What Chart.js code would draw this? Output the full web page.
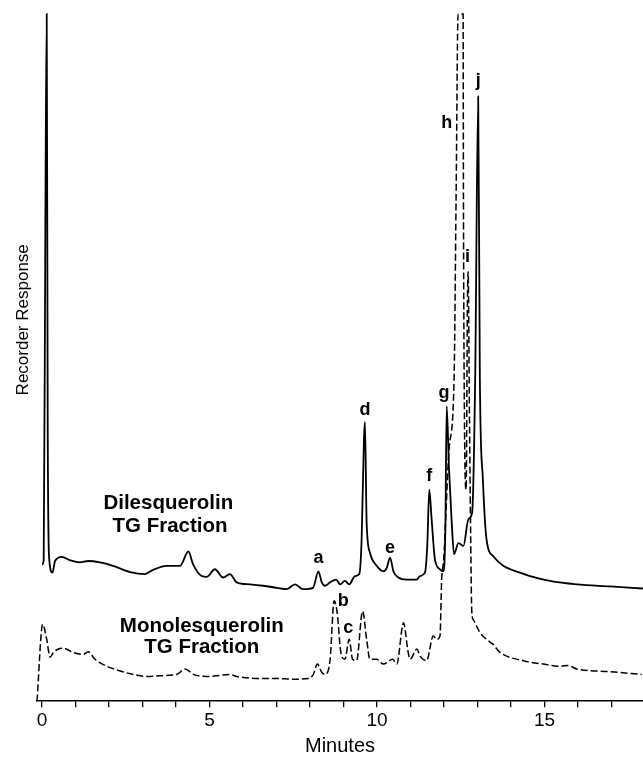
<!DOCTYPE html>
<html>
<head>
<meta charset="utf-8">
<script src="https://cdn.jsdelivr.net/npm/chart.js@4.4.1/dist/chart.umd.min.js"></script>
<style>
  body { margin: 0; background: #fff; }
  #wrap { width: 643px; height: 758px; }
</style>
</head>
<body>
<div id="wrap"><canvas id="gc_chart"></canvas></div>
<script>
// Dilesquerolin TG fraction (solid trace): minutes / recorder response (0-100 full scale)
var diTime = [0.00, 0.05, 0.10, 0.14, 0.17, 0.21, 0.31, 0.39, 0.59, 0.84, 1.13, 1.38, 1.73, 2.12, 2.63, 3.07, 3.31, 3.72, 4.12, 4.37, 4.51, 4.77, 4.92, 5.16, 5.41, 5.61, 5.81, 6.21, 6.60, 7.01, 7.30, 7.55, 7.79, 8.09, 8.25, 8.35, 8.45, 8.60, 8.78, 8.90, 9.04, 9.17, 9.34, 9.47, 9.54, 9.61, 9.64, 9.69, 9.79, 9.99, 10.19, 10.29, 10.39, 10.49, 10.64, 10.89, 11.19, 11.28, 11.43, 11.50, 11.56, 11.63, 11.73, 11.88, 11.98, 12.04, 12.08, 12.15, 12.23, 12.30, 12.43, 12.58, 12.73, 12.84, 12.93, 13.02, 13.07, 13.16, 13.27, 13.47, 13.77, 14.27, 14.57, 15.16, 15.96, 16.96, 17.94];
var diResp = [19.9, 20.5, 70.0, 100.0, 40.0, 21.0, 18.7, 20.4, 21.0, 20.5, 20.2, 20.4, 20.2, 19.7, 18.8, 18.5, 19.1, 19.7, 19.7, 21.8, 19.9, 18.2, 18.1, 19.2, 18.0, 18.5, 17.3, 17.0, 16.8, 16.5, 16.3, 17.0, 16.3, 16.5, 18.9, 17.3, 16.8, 17.3, 17.7, 17.0, 17.5, 17.0, 18.2, 18.5, 23.5, 38.1, 40.6, 26.0, 21.6, 19.7, 18.9, 19.4, 20.9, 18.9, 18.0, 17.7, 17.7, 18.2, 18.7, 22.6, 30.8, 26.5, 20.6, 19.2, 18.9, 25.0, 42.9, 33.7, 26.0, 21.4, 23.0, 22.6, 26.5, 27.5, 46.8, 88.0, 46.8, 32.3, 23.5, 21.1, 19.7, 18.7, 18.2, 17.5, 17.0, 16.7, 16.4];

// Monolesquerolin TG fraction (dashed trace)
var monoTime = [-0.15, 0.02, 0.14, 0.24, 0.34, 0.49, 0.64, 0.93, 1.23, 1.38, 1.58, 1.93, 2.33, 2.72, 3.13, 3.52, 4.02, 4.27, 4.52, 4.92, 5.21, 5.61, 5.81, 6.51, 7.01, 7.50, 7.95, 8.10, 8.22, 8.35, 8.45, 8.60, 8.72, 8.81, 8.92, 9.04, 9.17, 9.27, 9.39, 9.57, 9.69, 9.79, 9.99, 10.19, 10.47, 10.59, 10.79, 10.93, 10.99, 11.19, 11.28, 11.48, 11.68, 11.78, 11.88, 11.93, 11.99, 12.15, 12.30, 12.36, 12.42, 12.57, 12.58, 12.61, 12.66, 12.70, 12.72, 12.76, 12.79, 12.83, 12.87, 13.07, 13.27, 13.46, 13.67, 14.37, 14.96, 15.46, 15.70, 15.96, 16.96, 17.90];
var monoResp = [0.0, 11.2, 9.0, 6.4, 7.1, 7.6, 7.7, 7.1, 6.8, 7.2, 6.1, 5.1, 4.4, 3.9, 3.6, 3.7, 3.9, 4.7, 3.9, 3.6, 3.7, 3.9, 3.6, 3.3, 3.3, 3.2, 3.3, 3.9, 5.4, 4.2, 3.9, 6.1, 14.6, 12.9, 7.1, 6.1, 9.0, 6.1, 5.9, 13.1, 9.0, 6.1, 6.1, 5.4, 6.1, 5.4, 11.4, 7.1, 6.1, 7.6, 6.6, 5.9, 9.5, 9.0, 9.5, 17.7, 20.6, 36.6, 46.8, 73.0, 100.0, 100.0, 73.0, 41.0, 30.8, 58.4, 62.5, 41.0, 26.5, 12.9, 11.9, 10.0, 9.0, 8.3, 7.1, 5.9, 5.4, 5.1, 5.2, 4.7, 4.3, 3.9];

var xTicks = [0, 1, 2, 3, 4, 5, 6, 7, 8, 9, 10, 11, 12, 13, 14, 15, 16, 17];
var xLabelled = [0, 5, 10, 15];

// peak letters, placed at (minutes, response)
var peakNames = ['a', 'b', 'c', 'd', 'e', 'f', 'g', 'h', 'i', 'j'];
var peakTime = [8.25, 8.99, 9.14, 9.64, 10.39, 11.56, 12.00, 12.08, 12.70, 13.02];
var peakResp = [20.9, 14.6, 10.7, 42.4, 22.3, 32.7, 44.9, 84.2, 64.7, 90.2];

var traceNames = ['Dilesquerolin', 'TG Fraction', 'Monolesquerolin', 'TG Fraction'];
var traceTime = [3.77, 3.82, 4.77, 4.77];
var traceResp = [28.8, 25.5, 10.9, 7.8];

var yTitle = 'Recorder Response';

var FONT = "'Liberation Sans', Arial, Helvetica, sans-serif";

function pts(xs, ys) {
    var out = [];
    for (var i = 0; i < xs.length; i++) out.push({x: xs[i], y: ys[i]});
    return out;
}

var labelsPlugin = {
    id: 'peakLabels',
    afterDatasetsDraw: function(chart) {
        var ctx = chart.ctx, xs = chart.scales.x, ys = chart.scales.y;
        ctx.save();
        ctx.fillStyle = '#000';
        ctx.textAlign = 'center';
        ctx.textBaseline = 'middle';
        ctx.font = 'bold 18px ' + FONT;
        for (var i = 0; i < peakNames.length; i++) {
            ctx.fillText(peakNames[i], xs.getPixelForValue(peakTime[i]), ys.getPixelForValue(peakResp[i]));
        }
        ctx.font = 'bold 20.5px ' + FONT;
        for (var j = 0; j < traceNames.length; j++) {
            ctx.fillText(traceNames[j], xs.getPixelForValue(traceTime[j]), ys.getPixelForValue(traceResp[j]));
        }
        // y axis title, sits higher than the middle of the axis in the original
        ctx.font = '17px ' + FONT;
        ctx.translate(23, ys.getPixelForValue(55.5));
        ctx.rotate(-Math.PI / 2);
        ctx.fillText(yTitle, 0, 0);
        ctx.restore();
    }
};

var ctx = document.getElementById('gc_chart').getContext('2d');
var gc_chart = new Chart(ctx, {
    type: 'line',
    data: {
        datasets: [{
            label: 'Dilesquerolin TG Fraction',
            data: pts(diTime, diResp),
            borderColor: '#000',
            borderWidth: 1.8,
            pointRadius: 0,
            cubicInterpolationMode: 'monotone',
            clip: false
        }, {
            label: 'Monolesquerolin TG Fraction',
            data: pts(monoTime, monoResp),
            borderColor: '#000',
            borderWidth: 1.5,
            borderDash: [7, 3],
            pointRadius: 0,
            cubicInterpolationMode: 'monotone',
            clip: false
        }]
    },
    options: {
        responsive: true,
        maintainAspectRatio: false,
        animation: false,
        layout: { padding: { left: 37, top: 14, right: 0, bottom: 0 } },
        plugins: { legend: { display: false }, tooltip: { enabled: false } },
        scales: {
            x: {
                type: 'linear',
                min: -0.15,
                max: 17.94,
                afterBuildTicks: function(axis) {
                    axis.ticks = xTicks.map(function(v) { return {value: v}; });
                },
                ticks: {
                    autoSkip: false,
                    maxRotation: 0,
                    padding: 2,
                    color: '#000',
                    font: { family: FONT, size: 19 },
                    callback: function(v) { return xLabelled.indexOf(v) >= 0 ? String(v) : ''; }
                },
                grid: { drawOnChartArea: false, drawTicks: true, tickLength: 6, color: '#000', lineWidth: 1.3 },
                border: { display: true, color: '#000', width: 1.5 },
                title: { display: true, text: 'Minutes', color: '#000', font: { family: FONT, size: 20 }, padding: { top: 0, bottom: 0 } }
            },
            y: {
                display: false,
                min: 0,
                max: 100
            }
        }
    },
    plugins: [labelsPlugin]
});
</script>
</body>
</html>
